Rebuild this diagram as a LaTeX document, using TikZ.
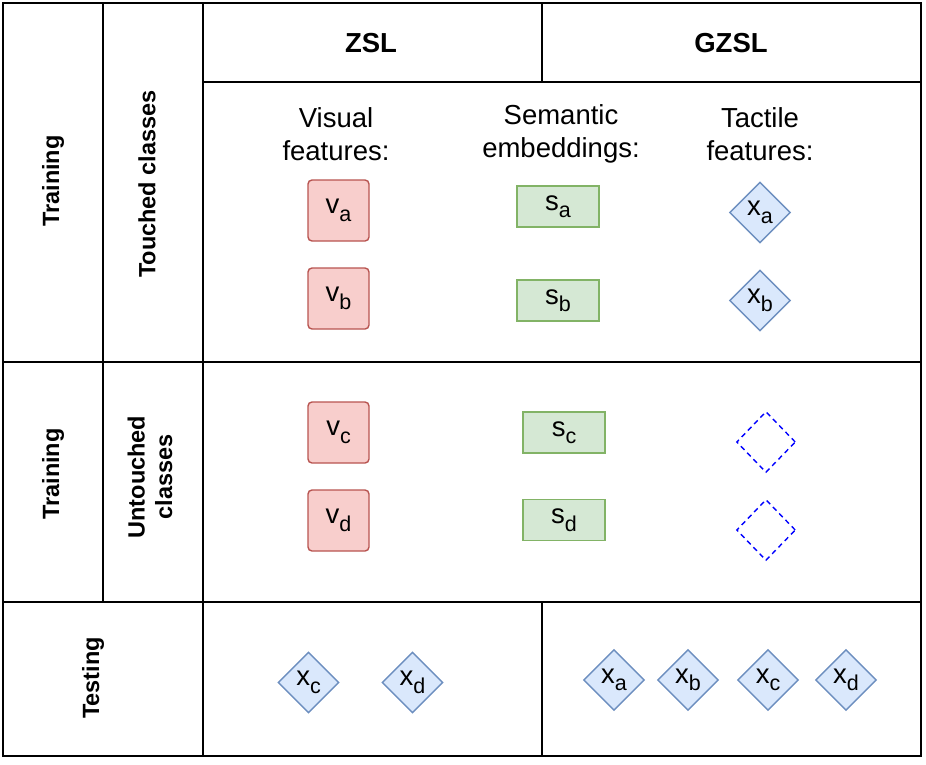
\documentclass[tikz,border=0pt]{standalone}
\usepackage{fontspec}
\setmainfont{Liberation Sans}
\usetikzlibrary{shapes.geometric}
\definecolor{redfill}{HTML}{F8CECC}
\definecolor{redline}{HTML}{B85450}
\definecolor{greenfill}{HTML}{D5E8D4}
\definecolor{greenline}{HTML}{82B366}
\definecolor{bluefill}{HTML}{DAE8FC}
\definecolor{blueline}{HTML}{6C8EBF}
\definecolor{dashblue}{HTML}{0000FF}
\newcommand\sbs[2]{{\fontsize{27.5}{27.5}\selectfont #1}\raisebox{-7.5pt}{\fontsize{21.5}{21.5}\selectfont #2}}
\tikzset{
  grid/.style={line width=1.6pt, black},
  outer/.style={line width=2.2pt, black},
  vbox/.style={draw=redline, fill=redfill, line width=1.4pt, rounded corners=4pt, minimum width=61pt, minimum height=61pt, inner sep=0pt},
  sbox/.style={draw=greenline, fill=greenfill, line width=1.4pt, minimum width=82pt, minimum height=41pt, inner sep=0pt},
  xdia/.style={diamond, draw=blueline, fill=bluefill, line width=1.4pt, minimum width=61pt, minimum height=61pt, inner sep=0pt},
  emptydia/.style={diamond, draw=dashblue, dashed, dash pattern=on 5pt off 4pt, line width=1.4pt, minimum width=59pt, minimum height=61pt, inner sep=0pt},
  head/.style={font=\fontsize{27.5}{27.5}\selectfont\bfseries},
  side/.style={font=\fontsize{23.5}{27.5}\selectfont\bfseries, rotate=90, align=center},
  title/.style={font=\fontsize{27.5}{33}\selectfont, align=center},
}
\begin{document}
\begin{tikzpicture}[x=1pt, y=-1pt]
\useasboundingbox (0,0) rectangle (926,764);
% grid
\draw[grid] (203,82) -- (921,82);
\draw[grid] (3,362) -- (921,362);
\draw[grid] (3,602) -- (921,602);
\draw[grid] (103,3) -- (103,602);
\draw[grid] (203,3) -- (203,756);
\draw[grid] (542,3) -- (542,82);
\draw[grid] (542,602) -- (542,756);
\draw[outer] (3,3) rectangle (921,756);
% headers
\node[head] (zsl) at (371,43) {ZSL};
\node[head] (gzsl) at (731,43) {GZSL};
% side labels
\node[side] (train1) at (53,181) {Training};
\node[side] (touched) at (147,184) {Touched classes};
\node[side] (train2) at (53,474) {Training};
\node[side] (untouched) at (150,477) {Untouched\\classes};
\node[side] (testing) at (93,678) {Testing};
% column titles
\node[title] (vistitle) at (336,134) {Visual\\features:};
\node[title] (semtitle) at (561,134) {Semantic\\embeddings:};
\node[title] (tactitle) at (760,134) {Tactile\\features:};
% touched
\node[vbox] (va) at (338.5,210.5) {\sbs{v}{a}};
\node[vbox] (vb) at (338.5,298.5) {\sbs{v}{b}};
\node[sbox] (sa) at (558,206.5) {\sbs{s}{a}};
\node[sbox] (sb) at (558,300.5) {\sbs{s}{b}};
\node[xdia] (xa) at (760,212.5) {\sbs{x}{a}};
\node[xdia] (xb) at (760,300.5) {\sbs{x}{b}};
% untouched
\node[vbox] (vc) at (338.5,432.5) {\sbs{v}{c}};
\node[vbox] (vd) at (338.5,520.5) {\sbs{v}{d}};
\node[sbox] (sc) at (564,432.5) {\sbs{s}{c}};
\node[sbox] (sd) at (564,520) {\sbs{s}{d}};
\node[emptydia] (ec) at (766,442) {};
\node[emptydia] (ed) at (766,530) {};
% testing
\node[xdia] (tzc) at (308.5,682.5) {\sbs{x}{c}};
\node[xdia] (tzd) at (412.5,682.5) {\sbs{x}{d}};
\node[xdia] (tga) at (614,680) {\sbs{x}{a}};
\node[xdia] (tgb) at (688,680) {\sbs{x}{b}};
\node[xdia] (tgc) at (768,680) {\sbs{x}{c}};
\node[xdia] (tgd) at (846,680) {\sbs{x}{d}};
\end{tikzpicture}
\end{document}
